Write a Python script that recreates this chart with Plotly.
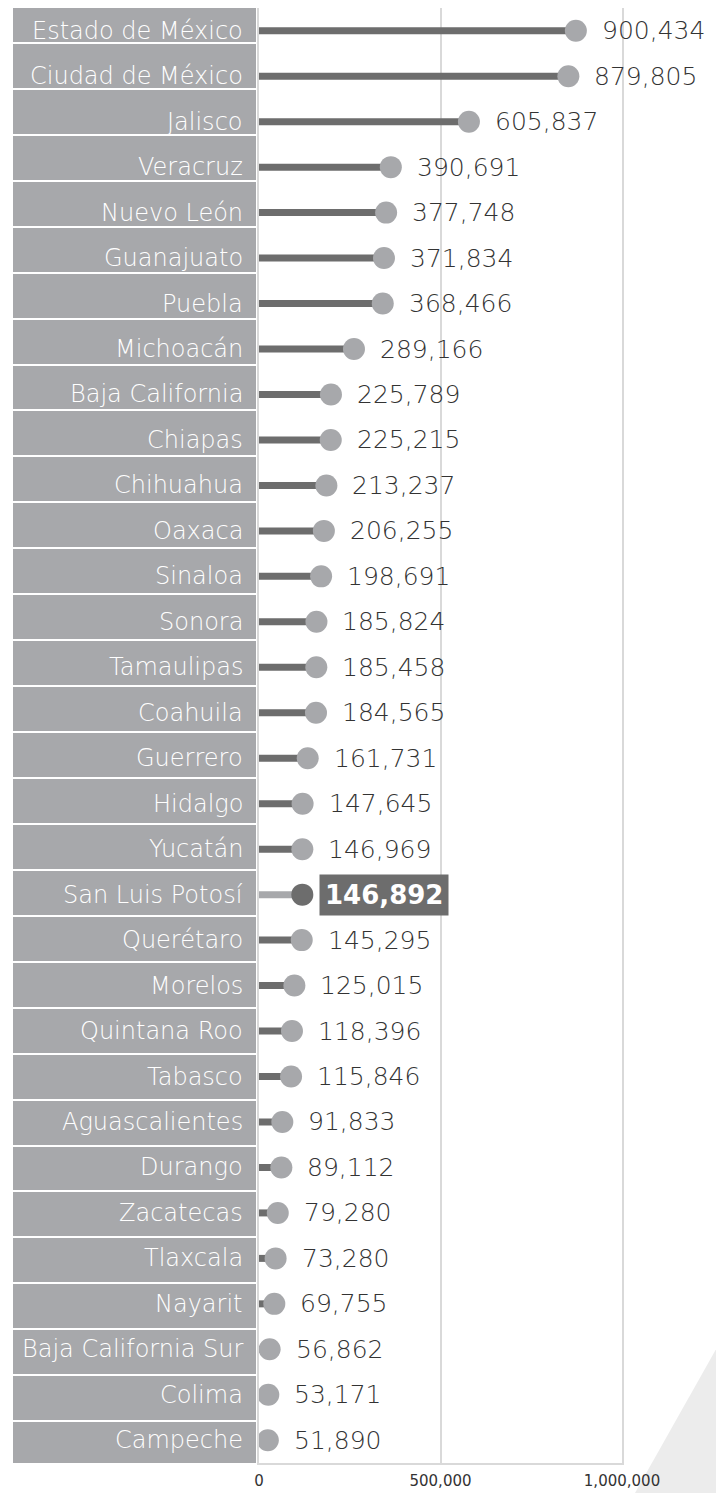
import plotly.graph_objects as go

states = [
    "Estado de México", "Ciudad de México", "Jalisco", "Veracruz", "Nuevo León",
    "Guanajuato", "Puebla", "Michoacán", "Baja California", "Chiapas",
    "Chihuahua", "Oaxaca", "Sinaloa", "Sonora", "Tamaulipas", "Coahuila",
    "Guerrero", "Hidalgo", "Yucatán", "San Luis Potosí", "Querétaro",
    "Morelos", "Quintana Roo", "Tabasco", "Aguascalientes", "Durango",
    "Zacatecas", "Tlaxcala", "Nayarit", "Baja California Sur", "Colima",
    "Campeche",
]
values = [
    900434, 879805, 605837, 390691, 377748, 371834, 368466, 289166, 225789,
    225215, 213237, 206255, 198691, 185824, 185458, 184565, 161731, 147645,
    146969, 146892, 145295, 125015, 118396, 115846, 91833, 89112, 79280,
    73280, 69755, 56862, 53171, 51890,
]
highlight = "San Luis Potosí"
tick_vals = [0, 500000, 1000000]

# the page body adds an 8 px margin, so the figure is a bit smaller
OFF = 8
W, H = 724 - OFF, 1493 - OFF
FONT = "DejaVu Sans"
DARK = "#6d6d6d"
LIGHT = "#a7a8ab"
TEXT = "#333333"
BORDER = "#d9d9d9"


def px(x):
    # page pixel -> paper fraction
    return min(1, max(0, (x - OFF) / W))


def py(y):
    return min(1, max(0, 1 - (y - OFF) / H))


fig = go.Figure()

# label column: full-width gray bars on their own axes
fig.add_trace(go.Bar(
    x=[1] * len(states), y=states, orientation="h", width=1,
    xaxis="x3", yaxis="y2",
    marker=dict(color=LIGHT, line=dict(color="white", width=2)),
    hoverinfo="skip", showlegend=False,
))

# sticks
sx, sy, hx, hy = [], [], [], []
for s, v in zip(states, values):
    if s == highlight:
        hx += [0, v, None]
        hy += [s, s, None]
    else:
        sx += [0, v, None]
        sy += [s, s, None]

fig.add_trace(go.Scatter(x=sx, y=sy, mode="lines", xaxis="x2", yaxis="y",
                         line=dict(color=DARK, width=7), showlegend=False))
fig.add_trace(go.Scatter(x=hx, y=hy, mode="lines", xaxis="x2", yaxis="y",
                         line=dict(color=LIGHT, width=7), showlegend=False))

# dots
fig.add_trace(go.Scatter(
    x=values, y=states, mode="markers", xaxis="x2", yaxis="y",
    marker=dict(size=22, color=[DARK if s == highlight else LIGHT for s in states]),
    showlegend=False,
))

annotations = []
for s, v in zip(states, values):
    annotations.append(dict(
        x=px(245), xref="paper", y=s, yref="y", xanchor="right",
        text=s, showarrow=False,
        font=dict(family=FONT, size=24, color="white", weight=300),
    ))
    if s == highlight:
        annotations.append(dict(
            x=v, xref="x", y=s, yref="y", xanchor="left", xshift=7,
            text=f"<b>{v:,}</b>", showarrow=False, bgcolor=DARK, borderpad=5,
            font=dict(family=FONT, size=26, color="white"),
        ))
    else:
        annotations.append(dict(
            x=v, xref="x", y=s, yref="y", xanchor="left", xshift=14,
            text=f"{v:,}", showarrow=False,
            font=dict(family=FONT, size=25, color=TEXT, weight=300),
        ))

n = len(states)
fig.update_layout(
    width=W, height=H,
    margin=dict(l=0, r=0, t=0, b=0),
    paper_bgcolor="white", plot_bgcolor="white",
    bargap=0,
    font=dict(family=FONT, color=TEXT),
    xaxis=dict(
        domain=[px(259), px(622)], range=[0, 1000000], anchor="y",
        tickvals=tick_vals, tickformat=",d", ticklabelstandoff=3,
        tickfont=dict(size=15, color=TEXT),
        showgrid=True, gridcolor=BORDER, gridwidth=1.5, zeroline=False,
        showline=True, mirror=True, linecolor=BORDER, linewidth=1.5,
        automargin=False, fixedrange=True,
    ),
    # data axis sits about 10 px left of the tick axis, as in the original
    xaxis2=dict(overlaying="x", anchor="y", range=[27550, 1027550],
                visible=False),
    yaxis=dict(
        domain=[py(1463), py(6)], anchor="x", type="category",
        categoryorder="array", categoryarray=states, range=[n - 0.5, -0.5],
        showticklabels=False, showgrid=False, zeroline=False,
        showline=True, mirror=True, linecolor=BORDER, linewidth=1.5,
        automargin=False,
    ),
    xaxis3=dict(domain=[px(12), px(257)], range=[0, 1], anchor="y2",
                visible=False),
    yaxis2=dict(domain=[py(1463), py(6)], anchor="x3", type="category",
                categoryorder="array", categoryarray=states,
                range=[31.41, -0.26], visible=False),
    annotations=annotations,
    shapes=[dict(
        type="path", xref="paper", yref="paper", layer="below",
        path=f"M 1,{py(1335)} L 1,0 L {px(635)},0 Z",
        fillcolor="#ececec", line=dict(width=0),
    )],
)

fig.write_html("out.html")
